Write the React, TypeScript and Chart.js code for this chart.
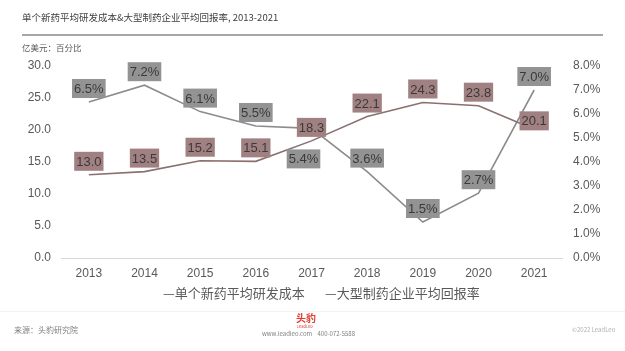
import React, { useEffect, useRef } from "react";
import { Chart, registerables } from "chart.js";

Chart.register(...registerables);

const years = ["2013", "2014", "2015", "2016", "2017", "2018", "2019", "2020", "2021"];
const rdCost = [13.0, 13.5, 15.2, 15.1, 18.3, 22.1, 24.3, 23.8, 20.1];
const returnRate = [6.5, 7.2, 6.1, 5.5, 5.4, 3.6, 1.5, 2.7, 7.0];
const costName = "单个新药平均研发成本";
const rateName = "大型制药企业平均回报率";

// label placement tweaks (style only): [dx, dy] of box centre relative to default (above point)
const costLabelShift = [[0, 0], [0, 0], [0, 0], [0, 0], [0, 0], [0, 0], [0, 0], [0, 0], [0, 5]];
const rateLabelShift = [[0, 0], [0, 0], [0, 0], [0, 0], [-8, 44], [0, 0], [0, 0], [0, 0], [0, 0]];

const COST_LINE = "#8a7070";
const COST_BOX = "#a08080";
const RATE_LINE = "#8c8c8c";
const RATE_BOX = "#939393";

const labelPlugin = {
  id: "boxLabels",
  afterDatasetsDraw(chart: any) {
    const ctx = chart.ctx;
    ctx.save();
    ctx.font = "13px 'Liberation Sans', Arial, sans-serif";
    ctx.textAlign = "center";
    ctx.textBaseline = "middle";
    chart.data.datasets.forEach((ds: any, di: number) => {
      const meta = chart.getDatasetMeta(di);
      const shifts = di === 0 ? costLabelShift : rateLabelShift;
      meta.data.forEach((pt: any, i: number) => {
        const v = ds.data[i];
        const text = di === 0 ? v.toFixed(1) : v.toFixed(1) + "%";
        const w = ctx.measureText(text).width + 4;
        const h = 19;
        const cx = pt.x + shifts[i][0];
        const cy = pt.y - 4 - h / 2 + shifts[i][1];
        ctx.fillStyle = di === 0 ? COST_BOX : RATE_BOX;
        ctx.fillRect(cx - w / 2, cy - h / 2, w, h);
        ctx.fillStyle = "#3a3a3a";
        ctx.fillText(text, cx, cy + 1);
      });
    });
    ctx.restore();
  },
};

export default function App() {
  const ref = useRef<HTMLCanvasElement>(null);
  useEffect(() => {
    const chart = new Chart(ref.current as HTMLCanvasElement, {
      type: "line",
      data: {
        labels: years,
        datasets: [
          {
            label: costName,
            data: rdCost,
            yAxisID: "y",
            borderColor: COST_LINE,
            borderWidth: 1.6,
            pointRadius: 0,
            tension: 0,
          },
          {
            label: rateName,
            data: returnRate,
            yAxisID: "y1",
            borderColor: RATE_LINE,
            borderWidth: 1.6,
            pointRadius: 0,
            tension: 0,
          },
        ],
      },
      options: {
        responsive: false,
        animation: false,
        layout: { padding: { top: 66, bottom: 0, left: 0, right: 0 } },
        plugins: { legend: { display: false }, tooltip: { enabled: false } },
        scales: {
          x: {
            offset: true,
            grid: { display: false, drawTicks: false },
            border: { display: true, color: "#d9d9d9", width: 1 },
            ticks: { color: "#595959", font: { size: 12, family: "'Liberation Sans', Arial, sans-serif" }, padding: 8 },
            afterFit: (s: any) => { s.height = 93; },
          },
          y: {
            position: "left",
            min: 0,
            max: 30,
            grid: { display: false, drawTicks: false },
            border: { display: false },
            ticks: {
              stepSize: 5,
              color: "#595959",
              padding: 10,
              font: { size: 12, family: "'Liberation Sans', Arial, sans-serif" },
              callback: (v: any) => Number(v).toFixed(1),
            },
            afterFit: (s: any) => { s.width = 61; },
          },
          y1: {
            position: "right",
            min: 0,
            max: 8,
            grid: { display: false, drawTicks: false },
            border: { display: false },
            ticks: {
              stepSize: 1,
              color: "#595959",
              padding: 11,
              font: { size: 12, family: "'Liberation Sans', Arial, sans-serif" },
              callback: (v: any) => Number(v).toFixed(1) + "%",
            },
            afterFit: (s: any) => { s.width = 63; },
          },
        },
      },
      plugins: [labelPlugin],
    });
    return () => chart.destroy();
  }, []);

  const cjk = "'Noto Sans CJK SC', 'Liberation Sans', sans-serif";
  return (
    <div style={{ position: "fixed", left: 0, top: 0, width: 625, height: 351, background: "#fff", overflow: "hidden", fontFamily: cjk }}>
      <canvas ref={ref} width={625} height={351} style={{ position: "absolute", left: 0, top: 0 }} />
      <div style={{ position: "absolute", left: 22, top: 10, fontSize: 9.5, color: "#404040", whiteSpace: "nowrap", lineHeight: "14px" }}>
        单个新药平均研发成本&amp;大型制药企业平均回报率, 2013-2021
      </div>
      <div style={{ position: "absolute", left: 22, top: 34, width: 581, height: 2, background: "#a6a6a6" }} />
      <div style={{ position: "absolute", left: 22, top: 41, fontSize: 8.5, color: "#595959", lineHeight: "12px" }}>亿美元：百分比</div>
      <div style={{ position: "absolute", left: 163, top: 284, fontSize: 13, color: "#595959", lineHeight: "18px", whiteSpace: "nowrap" }}>
        —{costName}
      </div>
      <div style={{ position: "absolute", left: 325, top: 284, fontSize: 13, color: "#595959", lineHeight: "18px", whiteSpace: "nowrap" }}>
        —{rateName}
      </div>
      <div style={{ position: "absolute", left: 0, top: 311, width: 625, height: 1, background: "#f2f2f2" }} />
      <div style={{ position: "absolute", left: 14, top: 324, fontSize: 8, color: "#7f7f7f", lineHeight: "12px" }}>来源：头豹研究院</div>
      <div style={{ position: "absolute", left: 296, top: 312, fontSize: 10, color: "#e03c31", fontWeight: "bold", lineHeight: "12px" }}>头豹</div>
      <div style={{ position: "absolute", left: 297, top: 323, fontSize: 4, color: "#e03c31", lineHeight: "6px" }}>LeadLeo</div>
      <div style={{ position: "absolute", left: 262, top: 329, fontSize: 6, color: "#808080", lineHeight: "10px", whiteSpace: "nowrap" }}>
        www.leadleo.com &nbsp;&nbsp; 400-072-5588
      </div>
      <div style={{ position: "absolute", left: 572, top: 325, fontSize: 6, color: "#b0b0b0", lineHeight: "10px", whiteSpace: "nowrap" }}>©2022 LeadLeo</div>
    </div>
  );
}
